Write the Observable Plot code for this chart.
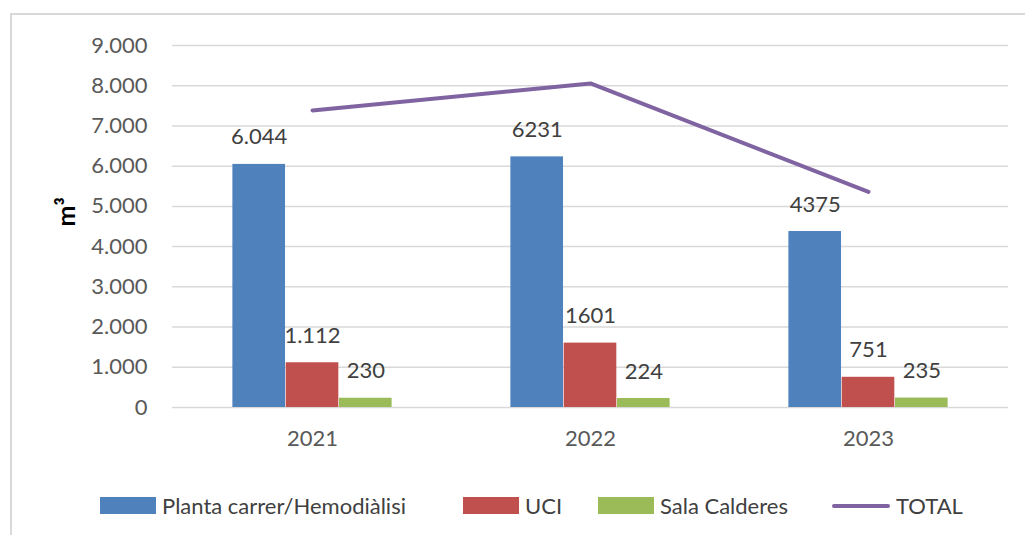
<!DOCTYPE html>
<html>
<head>
<meta charset="utf-8">
<script src="https://cdn.jsdelivr.net/npm/d3@7"></script>
<script src="https://cdn.jsdelivr.net/npm/@observablehq/plot@0.6"></script>
<style>
  html, body { margin: 0; padding: 0; background: #fff; overflow: hidden; }
  #wrap { position: relative; width: 1025px; height: 535px; overflow: hidden; font-family: Lato, "Open Sans", sans-serif; }
  #frame { position: absolute; left: 10px; top: 13px; width: 1100px; height: 600px; border: 2px solid #D9D9D9; box-sizing: border-box; }
  #chart { position: absolute; left: 0; top: 0; }
  #legend { position: absolute; left: 0; top: 492px; width: 1025px; height: 24px; font-size: 22px; color: #404040; }
  .item { position: absolute; top: 0; display: flex; align-items: center; gap: 6px; white-space: nowrap; }
  .sw { width: 56px; height: 17px; }
  .ln { width: 58px; height: 4px; border-radius: 2px; }
</style>
</head>
<body>
<div id="wrap">
  <div id="frame"></div>
  <div id="chart"></div>
  <div id="legend"></div>
</div>
<script>
const years = ["2021", "2022", "2023"];
const seriesNames = ["Planta carrer/Hemodiàlisi", "UCI", "Sala Calderes"];
const planta = [6044, 6231, 4375];
const uci = [1112, 1601, 751];
const sala = [230, 224, 235];
const total = [7386, 8056, 5361];
const plantaLabels = ["6.044", "6231", "4375"];
const uciLabels = ["1.112", "1601", "751"];
const salaLabels = ["230", "224", "235"];
const totalName = "TOTAL";
const yTicks = [0, 1000, 2000, 3000, 4000, 5000, 6000, 7000, 8000, 9000];
const colors = ["#4F81BD", "#C0504D", "#9BBB59"];
const totalColor = "#8064A2";

const seriesValues = [planta, uci, sala];
const seriesLabels = [plantaLabels, uciLabels, salaLabels];

const rows = seriesValues.map((vals, i) =>
  years.map((y, j) => ({year: y, value: vals[j], label: seriesLabels[i][j], series: seriesNames[i]}))
);
const totalRows = years.map((y, j) => ({year: y, value: total[j]}));

const fmt = d => d3.format(",")(d).replace(/,/g, ".");
const barW = 53.3;
const bandW = (1025 - 172 - 17) / 3;
const inset = (bandW - barW) / 2;

const marks = [
  Plot.gridY(yTicks, {stroke: "#D9D9D9", strokeOpacity: 1, strokeWidth: 1.5}),
];
rows.forEach((r, i) => {
  const dx = (i - 1) * barW;
  marks.push(Plot.barY(r, {x: "year", y: "value", fill: colors[i], insetLeft: inset, insetRight: inset, dx}));
});
rows.forEach((r, i) => {
  const dx = (i - 1) * barW;
  marks.push(Plot.text(r, {x: "year", y: "value", text: "label", dx, dy: -27, lineAnchor: "middle", fill: "#404040", fontSize: 22}));
});
marks.push(Plot.line(totalRows, {x: "year", y: "value", stroke: totalColor, strokeWidth: 4, strokeLinecap: "round", strokeLinejoin: "round"}));
marks.push(Plot.axisY({ticks: yTicks, tickFormat: fmt, tickSize: 0, tickPadding: 25, fontSize: 22, color: "#595959", label: null}));
marks.push(Plot.axisX({tickSize: 0, tickPadding: 23, fontSize: 22, color: "#595959", label: null}));
marks.push(Plot.text(["m³"], {frameAnchor: "left", rotate: -90, dx: -106, fontWeight: "bold", fontSize: 25, fill: "#000"}));

const chart = Plot.plot({
  width: 1025,
  height: 470,
  marginLeft: 172,
  marginRight: 17,
  marginTop: 45,
  marginBottom: 63,
  style: {fontFamily: "Lato, 'Open Sans', sans-serif", background: "transparent", overflow: "visible"},
  x: {type: "band", domain: years, padding: 0},
  y: {domain: [0, 9000]},
  marks
});
document.getElementById("chart").appendChild(chart);

const legendLefts = [100, 463, 598, 832];
const legend = document.getElementById("legend");
seriesNames.forEach((name, i) => {
  const it = document.createElement("div");
  it.className = "item";
  it.style.left = legendLefts[i] + "px";
  it.innerHTML = `<div class="sw" style="background:${colors[i]}"></div><span>${name}</span>`;
  legend.appendChild(it);
});
const it = document.createElement("div");
it.className = "item";
it.style.left = legendLefts[3] + "px";
it.innerHTML = `<div class="ln" style="background:${totalColor}"></div><span>${totalName}</span>`;
legend.appendChild(it);
</script>
</body>
</html>
